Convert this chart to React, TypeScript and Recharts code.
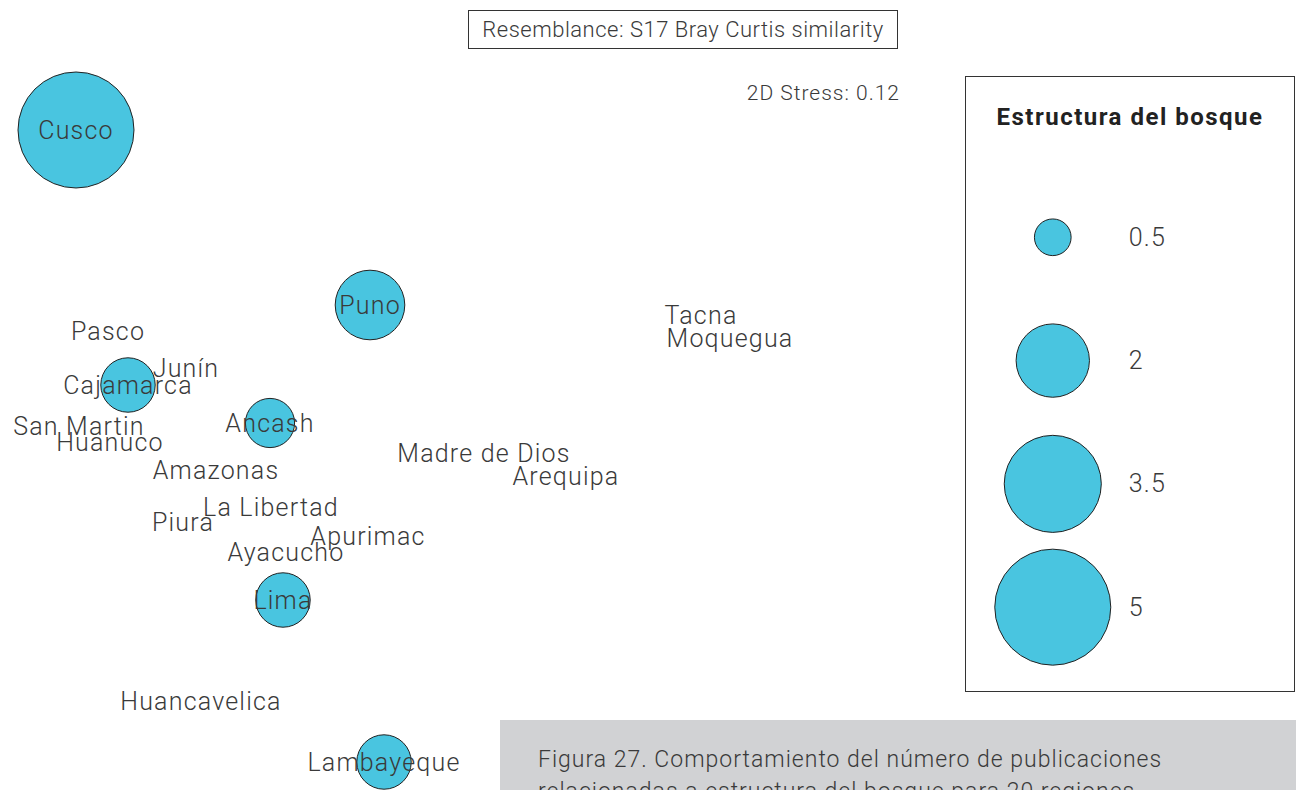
import { ScatterChart, Scatter, XAxis, YAxis, ZAxis } from "recharts";

// nMDS ordination (unit-free axes) of 20 regions, bubble = publications on forest structure
const regiones = [
  "Cusco", "Puno", "Pasco", "Junín", "Cajamarca", "San Martin", "Huanuco", "Ancash",
  "Amazonas", "Madre de Dios", "Arequipa", "Tacna", "Moquegua", "La Libertad", "Piura",
  "Apurimac", "Ayacucho", "Lima", "Huancavelica", "Lambayeque",
];
const mds1 = [
  -2.02, -0.55, -1.86, -1.47, -1.76, -2.005, -1.85, -1.05,
  -1.32, 0.02, 0.43, 1.105, 1.25, -1.045, -1.485,
  -0.56, -0.97, -0.985, -1.395, -0.48,
];
const mds2 = [
  1.325, 0.45, 0.32, 0.135, 0.05, -0.155, -0.235, -0.14,
  -0.375, -0.29, -0.405, 0.4, 0.285, -0.56, -0.635,
  -0.705, -0.785, -1.025, -1.53, -1.835,
];
const publicaciones = [
  5, 1.8, 0, 0, 1.1, 0, 0, 0.9,
  0, 0, 0, 0, 0, 0, 0,
  0, 0, 1.1, 0, 1.1,
];
const escala = [0.5, 2, 3.5, 5];

const puntos = regiones.map((name, i) => ({ name, x: mds1[i], y: mds2[i], v: publicaciones[i] }));
const burbujas = puntos.filter((p) => p.v > 0);
const leyenda = escala.map((v, i) => ({ x: 0, y: i, v, label: String(v) }));

const FONT = "Roboto, 'Open Sans', sans-serif";
const TXT = "#3a3a3a";
const FILL = "#49c5e0";

const LabelShape = (props: any) => (
  <text
    x={props.cx}
    y={props.cy}
    textAnchor="middle"
    dominantBaseline="central"
    fontFamily={FONT}
    fontWeight={300}
    fontSize={25}
    letterSpacing={1.2}
    fill={TXT}
  >
    {props.payload.name}
  </text>
);

const LegendLabel = (props: any) => (
  <text
    x={props.cx + 76}
    y={props.cy}
    dominantBaseline="central"
    fontFamily={FONT}
    fontWeight={300}
    fontSize={25}
    letterSpacing={1.2}
    fill={TXT}
  >
    {props.payload.label}
  </text>
);

export default function App() {
  return (
    <div
      style={{
        position: "absolute",
        left: 0,
        top: 0,
        width: 1296,
        height: 790,
        overflow: "hidden",
        background: "#fff",
        fontFamily: FONT,
        color: TXT,
      }}
    >
      <div style={{ position: "absolute", left: 0, top: 0 }}>
        <ScatterChart width={960} height={790} margin={{ top: 0, right: 0, bottom: 0, left: 0 }}>
          <XAxis type="number" dataKey="x" domain={[-2.4, 2.4]} hide allowDataOverflow />
          <YAxis type="number" dataKey="y" domain={[-1.975, 1.975]} hide allowDataOverflow />
          <ZAxis type="number" dataKey="v" domain={[0, 5]} range={[0, 10568]} />
          <Scatter data={burbujas} fill={FILL} stroke="#222" strokeWidth={1} isAnimationActive={false} />
          <Scatter data={puntos} shape={LabelShape} isAnimationActive={false} />
        </ScatterChart>
      </div>

      <div
        style={{
          position: "absolute",
          left: 468,
          top: 10,
          width: 428,
          height: 37,
          border: "1.5px solid #333",
          fontSize: 22,
          fontWeight: 300,
          letterSpacing: 0.5,
          lineHeight: "37px",
          textAlign: "center",
        }}
      >
        Resemblance: S17 Bray Curtis similarity
      </div>
      <div
        style={{
          position: "absolute",
          right: 1296 - 900,
          top: 80,
          fontSize: 21,
          fontWeight: 300,
          letterSpacing: 1,
          lineHeight: "26px",
        }}
      >
        2D Stress: 0.12
      </div>

      <div
        style={{
          position: "absolute",
          left: 965,
          top: 76,
          width: 328,
          height: 614,
          border: "1px solid #333",
        }}
      >
        <div
          style={{
            position: "absolute",
            top: 26,
            width: "100%",
            textAlign: "center",
            fontSize: 24,
            fontWeight: 700,
            letterSpacing: 1.5,
            color: "#222",
          }}
        >
          Estructura del bosque
        </div>
        <div style={{ position: "absolute", left: 0, top: 0 }}>
          <ScatterChart width={328} height={614} margin={{ top: 0, right: 0, bottom: 0, left: 0 }}>
            <XAxis type="number" dataKey="x" domain={[-1, 2.78]} hide allowDataOverflow />
            <YAxis type="number" dataKey="y" domain={[-1.3, 3.68]} reversed hide allowDataOverflow />
            <ZAxis type="number" dataKey="v" domain={[0, 5]} range={[0, 10568]} />
            <Scatter data={leyenda} fill={FILL} stroke="#222" strokeWidth={1} isAnimationActive={false} />
            <Scatter data={leyenda} shape={LegendLabel} isAnimationActive={false} />
          </ScatterChart>
        </div>
      </div>

      <div
        style={{
          position: "absolute",
          left: 500,
          top: 720,
          width: 796,
          height: 70,
          background: "#d1d2d4",
          overflow: "hidden",
          boxSizing: "border-box",
          paddingLeft: 38,
          paddingTop: 24,
          fontSize: 23,
          fontWeight: 300,
          letterSpacing: 1,
          lineHeight: "32px",
        }}
      >
        Figura 27. Comportamiento del número de publicaciones
        <br />
        relacionadas a estructura del bosque para 20 regiones
      </div>
    </div>
  );
}
